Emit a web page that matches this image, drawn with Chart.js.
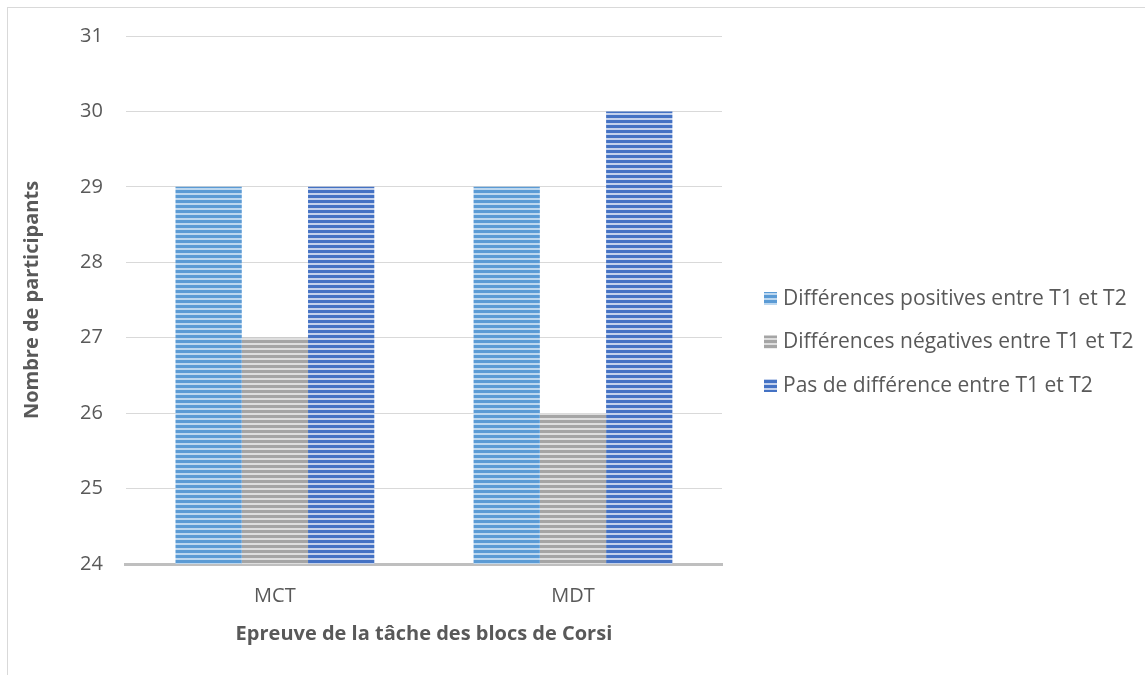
<!DOCTYPE html>
<html>
<head>
<meta charset="utf-8">
<script src="https://cdn.jsdelivr.net/npm/chart.js@4.4.1/dist/chart.umd.min.js"></script>
<style>
  html, body { margin: 0; padding: 0; background: #fff; }
  #frame { position: absolute; left: 7px; top: 7px; width: 1160px; height: 690px; border: 1px solid #d9d9d9; }
  #wrap { position: absolute; left: 0; top: 0; width: 1145px; height: 675px; }
</style>
</head>
<body>
<div id="frame"></div>
<div id="wrap"><canvas id="chart"></canvas></div>
<script>
// données du graphique
const categories = ["MCT", "MDT"];
const seriesNames = [
  "Différences positives entre T1 et T2",
  "Différences négatives entre T1 et T2",
  "Pas de différence entre T1 et T2"
];
const positives = [29, 29];
const negatives = [27, 26];
const noDiff = [29, 30];
const yTicks = [24, 25, 26, 27, 28, 29, 30, 31];

const FONT = "Open Sans";
const GREY = "#595959";

// motif rayé horizontal
function stripes(dark, light) {
  const c = document.createElement("canvas");
  c.width = 8;
  c.height = 5;
  const g = c.getContext("2d");
  g.fillStyle = light;
  g.fillRect(0, 0, 8, 5);
  g.fillStyle = dark;
  g.fillRect(0, 0, 8, 3);
  return g.createPattern(c, "repeat");
}

// légende à droite, dessinée dans l'espace réservé par layout.padding.right
const sideLegend = {
  id: "sideLegend",
  afterDraw(chart) {
    const g = chart.ctx;
    const sets = chart.data.datasets;
    const rowH = 43.5;
    const x = chart.chartArea.right + 42;
    let y = chart.height / 2 + 5 - rowH * (sets.length - 1) / 2;
    g.save();
    g.font = "21px " + FONT;
    g.textBaseline = "middle";
    sets.forEach(ds => {
      g.fillStyle = ds.backgroundColor;
      g.fillRect(x, y - 7, 13, 13);
      g.fillStyle = GREY;
      g.fillText(ds.label, x + 19, y);
      y += rowH;
    });
    g.restore();
  }
};

const ctx = document.getElementById("chart").getContext("2d");
new Chart(ctx, {
  type: "bar",
  data: {
    labels: categories,
    datasets: [
      { label: seriesNames[0], data: positives, backgroundColor: stripes("#5b9bd5", "#bcd7ef") },
      { label: seriesNames[1], data: negatives, backgroundColor: stripes("#a5a5a5", "#dedede") },
      { label: seriesNames[2], data: noDiff, backgroundColor: stripes("#4472c4", "#c3d1ec") }
    ]
  },
  plugins: [sideLegend],
  options: {
    responsive: true,
    maintainAspectRatio: false,
    animation: false,
    layout: { padding: { left: 20, right: 423, top: 36, bottom: 29 } },
    datasets: { bar: { categoryPercentage: 0.667, barPercentage: 1.0 } },
    plugins: {
      tooltip: { enabled: false },
      legend: { display: false }
    },
    scales: {
      x: {
        grid: { display: false, drawTicks: false },
        border: { color: "#bfbfbf", width: 3 },
        ticks: { color: GREY, font: { family: FONT, size: 20 }, padding: 20 },
        title: {
          display: true,
          text: "Epreuve de la tâche des blocs de Corsi",
          color: GREY,
          font: { family: FONT, size: 20, weight: "bold" },
          padding: { top: -6, bottom: 0 }
        }
      },
      y: {
        min: 24,
        max: 31,
        afterBuildTicks: (axis) => { axis.ticks = yTicks.map(v => ({ value: v })); },
        grid: { color: "#d9d9d9", drawTicks: false },
        border: { display: false },
        ticks: { color: GREY, font: { family: FONT, size: 20 }, padding: 23 },
        title: {
          display: true,
          text: "Nombre de participants",
          color: GREY,
          font: { family: FONT, size: 20, weight: "bold" },
          padding: { top: 0, bottom: 13 }
        }
      }
    }
  }
});
</script>
</body>
</html>
